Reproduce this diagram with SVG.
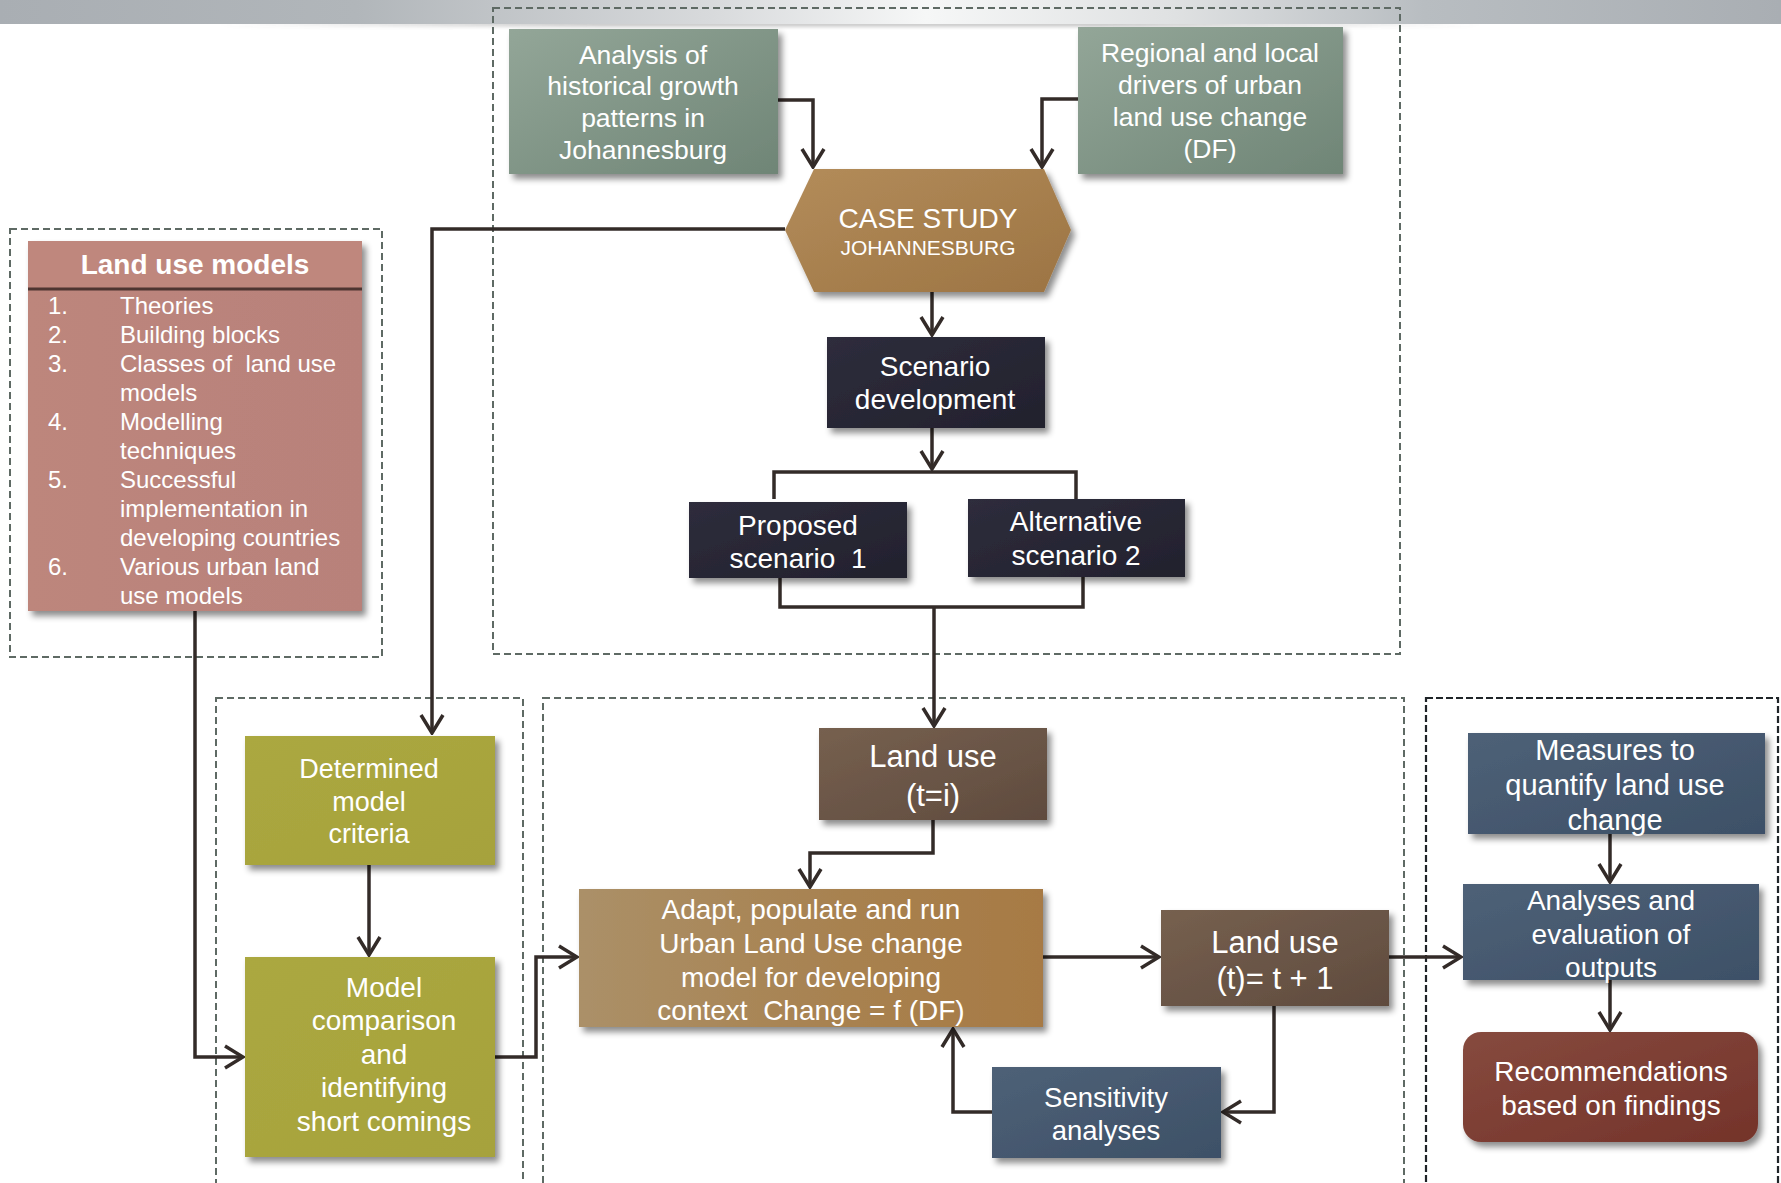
<svg xmlns="http://www.w3.org/2000/svg" width="1781" height="1183" viewBox="0 0 1781 1183">
<defs>
<style>
.c{fill:none;stroke:#5e6a64;stroke-width:2;stroke-dasharray:7 4}
.cd{fill:none;stroke:#1f2428;stroke-width:2.2;stroke-dasharray:7 3}
.n{filter:url(#sh)}
.t{font-family:"Liberation Sans",Arial,sans-serif;fill:#fff;text-anchor:middle}
.l{font-family:"Liberation Sans",Arial,sans-serif;fill:#fff;font-size:24px}
.k{fill:none;stroke:#332b28;stroke-width:3.5}
.a{marker-end:url(#ar)}
</style>
<filter id="sh" x="-10%" y="-10%" width="125%" height="130%">
<feDropShadow dx="4" dy="5" stdDeviation="3" flood-color="#000" flood-opacity="0.45"/>
</filter>
<filter id="bl" x="-5%" y="-100%" width="110%" height="300%">
<feGaussianBlur stdDeviation="2"/>
</filter>
<marker id="ar" markerUnits="userSpaceOnUse" viewBox="-22 -13 24 26" refX="0" refY="0" markerWidth="24" markerHeight="26" orient="auto">
<path d="M-18,-11 L0,0 L-18,11" fill="none" stroke="#332b28" stroke-width="3.5"/>
</marker>
<linearGradient id="band" x1="0" y1="0" x2="1" y2="0">
<stop offset="0" stop-color="#a9aeb3"/>
<stop offset="0.2" stop-color="#b1b6ba"/>
<stop offset="0.4" stop-color="#d8dadc"/>
<stop offset="0.52" stop-color="#f6f7f7"/>
<stop offset="0.66" stop-color="#dfe1e2"/>
<stop offset="0.8" stop-color="#b8bdc1"/>
<stop offset="1" stop-color="#a9aeb3"/>
</linearGradient>
<linearGradient id="bsh" x1="0" y1="0" x2="1" y2="0">
<stop offset="0" stop-color="#666" stop-opacity="0"/>
<stop offset="0.3" stop-color="#666" stop-opacity="0.5"/>
<stop offset="0.7" stop-color="#666" stop-opacity="0.5"/>
<stop offset="1" stop-color="#666" stop-opacity="0"/>
</linearGradient>
<linearGradient id="gGreen" x1="0" y1="0" x2="1" y2="1">
<stop offset="0" stop-color="#93a698"/>
<stop offset="1" stop-color="#6f8576"/>
</linearGradient>
<linearGradient id="gGold" x1="0" y1="0" x2="1" y2="1">
<stop offset="0" stop-color="#b38c5a"/>
<stop offset="1" stop-color="#9c7443"/>
</linearGradient>
<linearGradient id="gDark" x1="0" y1="0" x2="1" y2="1">
<stop offset="0" stop-color="#2e2d3c"/>
<stop offset="1" stop-color="#22212d"/>
</linearGradient>
<linearGradient id="gRose" x1="0" y1="0" x2="1" y2="0">
<stop offset="0" stop-color="#bd867c"/>
<stop offset="1" stop-color="#b8817a"/>
</linearGradient>
<linearGradient id="gOlive" x1="0" y1="0" x2="1" y2="1">
<stop offset="0" stop-color="#aba840"/>
<stop offset="1" stop-color="#a6a23c"/>
</linearGradient>
<linearGradient id="gBrown" x1="0" y1="0" x2="1" y2="1">
<stop offset="0" stop-color="#76604f"/>
<stop offset="1" stop-color="#5f4b3e"/>
</linearGradient>
<linearGradient id="gTan" x1="0" y1="0" x2="1" y2="0">
<stop offset="0" stop-color="#ab9068"/>
<stop offset="0.5" stop-color="#a88352"/>
<stop offset="1" stop-color="#a77a44"/>
</linearGradient>
<linearGradient id="gSlate" x1="0" y1="0" x2="1" y2="1">
<stop offset="0" stop-color="#4e6177"/>
<stop offset="1" stop-color="#3d5067"/>
</linearGradient>
<linearGradient id="gRed" x1="0" y1="0" x2="1" y2="1">
<stop offset="0" stop-color="#864a3e"/>
<stop offset="1" stop-color="#74332a"/>
</linearGradient>
</defs>
<rect width="1781" height="1183" fill="#fff"/>
<g id="banner">
<rect x="220" y="22" width="1260" height="4" fill="url(#bsh)" filter="url(#bl)"/>
<rect x="0" y="0" width="1781" height="24" fill="url(#band)"/>
</g>
<g id="containers">
<rect class="c" x="493" y="8" width="907" height="646"/>
<rect class="c" x="10" y="229" width="372" height="428"/>
<rect class="c" x="216" y="698" width="307" height="520"/>
<rect class="c" x="543" y="698" width="861" height="520"/>
<rect class="cd" x="1426" y="698" width="352" height="520"/>
</g>
<g id="connectors">
<path class="k a" d="M778,100 H813 V167"/>
<path class="k a" d="M1078,99 H1042 V167"/>
<path class="k a" d="M932,292 V335"/>
<path class="k a" d="M785,229 H432 V733"/>
<path class="k a" d="M932,428 V469"/>
<path class="k" d="M774,499 V472 H1076 V499"/>
<path class="k" d="M780,578 V607 H1083 V577"/>
<path class="k a" d="M934,607 V726"/>
<path class="k a" d="M195,611 V1057 H243"/>
<path class="k a" d="M369,865 V955"/>
<path class="k a" d="M495,1057 H536 V957 H577"/>
<path class="k a" d="M933,820 V853 H810 V887"/>
<path class="k a" d="M1043,957 H1159"/>
<path class="k a" d="M1274,1006 V1112 H1223"/>
<path class="k a" d="M992,1112 H953 V1029"/>
<path class="k a" d="M1389,957 H1461"/>
<path class="k a" d="M1610,834 V882"/>
<path class="k a" d="M1610,980 V1030"/>
</g>
<g id="analysis">
<rect class="n" x="509" y="29" width="269" height="145" fill="url(#gGreen)"/>
<text class="t" font-size="26.5"><tspan x="643" y="64">Analysis of</tspan><tspan x="643" y="95">historical growth</tspan><tspan x="643" y="127">patterns in</tspan><tspan x="643" y="159">Johannesburg</tspan></text>
</g>
<g id="regional">
<rect class="n" x="1078" y="27" width="265" height="147" fill="url(#gGreen)"/>
<text class="t" font-size="26.5"><tspan x="1210" y="62">Regional and local</tspan><tspan x="1210" y="94">drivers of urban</tspan><tspan x="1210" y="126">land use change</tspan><tspan x="1210" y="158">(DF)</tspan></text>
</g>
<g id="casestudy">
<polygon class="n" points="785,230 814,169 1044,169 1071,230 1044,292 814,292" fill="url(#gGold)"/>
<text class="t" x="928" y="228" font-size="28">CASE STUDY</text>
<text class="t" x="928" y="255" font-size="21">JOHANNESBURG</text>
</g>
<g id="scenariodev">
<rect class="n" x="827" y="337" width="218" height="91" fill="url(#gDark)"/>
<text class="t" font-size="28"><tspan x="935" y="376">Scenario</tspan><tspan x="935" y="409">development</tspan></text>
</g>
<g id="proposed">
<rect class="n" x="689" y="502" width="218" height="76" fill="url(#gDark)"/>
<text class="t" font-size="28" xml:space="preserve"><tspan x="798" y="535">Proposed</tspan><tspan x="798" y="568">scenario  1</tspan></text>
</g>
<g id="alternative">
<rect class="n" x="968" y="499" width="217" height="78" fill="url(#gDark)"/>
<text class="t" font-size="28"><tspan x="1076" y="531">Alternative</tspan><tspan x="1076" y="565">scenario 2</tspan></text>
</g>
<g id="landusemodels">
<rect class="n" x="28" y="241" width="334" height="370" fill="url(#gRose)"/>
<rect x="28" y="241" width="334" height="48" fill="#bf877d"/>
<line x1="28" y1="289" x2="362" y2="289" stroke="#4e3531" stroke-width="3"/>
<text class="t" x="195" y="274" font-size="28" font-weight="bold">Land use models</text>
<text class="l" xml:space="preserve"><tspan x="48" y="314">1.</tspan><tspan x="120" y="314">Theories</tspan><tspan x="48" y="343">2.</tspan><tspan x="120" y="343">Building blocks</tspan><tspan x="48" y="372">3.</tspan><tspan x="120" y="372">Classes of  land use</tspan><tspan x="120" y="401">models</tspan><tspan x="48" y="430">4.</tspan><tspan x="120" y="430">Modelling</tspan><tspan x="120" y="459">techniques</tspan><tspan x="48" y="488">5.</tspan><tspan x="120" y="488">Successful</tspan><tspan x="120" y="517">implementation in</tspan><tspan x="120" y="546">developing countries</tspan><tspan x="48" y="575">6.</tspan><tspan x="120" y="575">Various urban land</tspan><tspan x="120" y="604">use models</tspan></text>
</g>
<g id="determined">
<rect class="n" x="245" y="736" width="250" height="129" fill="url(#gOlive)"/>
<text class="t" font-size="27"><tspan x="369" y="778">Determined</tspan><tspan x="369" y="811">model</tspan><tspan x="369" y="843">criteria</tspan></text>
</g>
<g id="comparison">
<rect class="n" x="245" y="957" width="250" height="200" fill="url(#gOlive)"/>
<text class="t" font-size="28"><tspan x="384" y="997">Model</tspan><tspan x="384" y="1030">comparison</tspan><tspan x="384" y="1064">and</tspan><tspan x="384" y="1097">identifying</tspan><tspan x="384" y="1131">short comings</tspan></text>
</g>
<g id="landuse-ti">
<rect class="n" x="819" y="728" width="228" height="92" fill="url(#gBrown)"/>
<text class="t" font-size="31"><tspan x="933" y="767">Land use</tspan><tspan x="933" y="806">(t=i)</tspan></text>
</g>
<g id="adapt">
<rect class="n" x="579" y="889" width="464" height="138" fill="url(#gTan)"/>
<text class="t" font-size="28" xml:space="preserve"><tspan x="811" y="919">Adapt, populate and run</tspan><tspan x="811" y="953">Urban Land Use change</tspan><tspan x="811" y="987">model for developing</tspan><tspan x="811" y="1020">context  Change = f (DF)</tspan></text>
</g>
<g id="landuse-t1">
<rect class="n" x="1161" y="910" width="228" height="96" fill="url(#gBrown)"/>
<text class="t" font-size="31"><tspan x="1275" y="953">Land use</tspan><tspan x="1275" y="989">(t)= t + 1</tspan></text>
</g>
<g id="sensitivity">
<rect class="n" x="992" y="1067" width="229" height="91" fill="url(#gSlate)"/>
<text class="t" font-size="27.5"><tspan x="1106" y="1107">Sensitivity</tspan><tspan x="1106" y="1140">analyses</tspan></text>
</g>
<g id="measures">
<rect class="n" x="1468" y="733" width="297" height="101" fill="url(#gSlate)"/>
<text class="t" font-size="29"><tspan x="1615" y="760">Measures to</tspan><tspan x="1615" y="795">quantify land use</tspan><tspan x="1615" y="830">change</tspan></text>
</g>
<g id="analyses">
<rect class="n" x="1463" y="884" width="296" height="96" fill="url(#gSlate)"/>
<text class="t" font-size="28"><tspan x="1611" y="910">Analyses and</tspan><tspan x="1611" y="944">evaluation of</tspan><tspan x="1611" y="977">outputs</tspan></text>
</g>
<g id="recommendations">
<rect class="n" x="1463" y="1032" width="295" height="110" rx="18" fill="url(#gRed)"/>
<text class="t" font-size="28"><tspan x="1611" y="1081">Recommendations</tspan><tspan x="1611" y="1115">based on findings</tspan></text>
</g>
</svg>
